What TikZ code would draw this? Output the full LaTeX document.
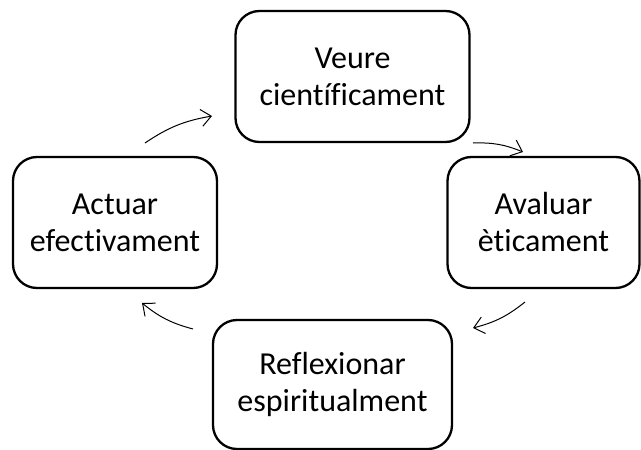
\documentclass[tikz,border=0pt]{standalone}
\usepackage{fontspec}
\setmainfont[Ligatures={NoCommon,NoRare,NoDiscretionary}]{Carlito}
\usetikzlibrary{arrows.meta}
\begin{document}
\begin{tikzpicture}[x=1pt,y=-1pt,
  stagebox/.style={draw=black, line width=2.3pt, rounded corners=24pt, inner sep=0pt,
    align=center, font=\fontsize{32}{37}\selectfont},
  cyclearrow/.style={line width=1pt, -{Straight Barb[length=10pt,width=17pt,line width=1pt]}, bend left=12}]
\useasboundingbox (0,0) rectangle (641,450);
\node[stagebox, minimum width=234pt, minimum height=131pt] (top) at (352.5,76.5) {Veure\\científicament};
\node[stagebox, minimum width=192pt, minimum height=131pt] (right) at (543.5,222.5) {Avaluar\\èticament};
\node[stagebox, minimum width=239pt, minimum height=129pt] (bottom) at (332.5,384.5) {Reflexionar\\espiritualment};
\node[stagebox, minimum width=204pt, minimum height=131pt] (left) at (115,222.5) {Actuar\\efectivament};
\coordinate (a1s) at (145,143);
\coordinate (a1e) at (212,116);
\coordinate (a2s) at (473,143);
\coordinate (a2e) at (523,152);
\coordinate (a3s) at (525,302);
\coordinate (a3e) at (473,328);
\coordinate (a4s) at (193,329);
\coordinate (a4e) at (142,303);
\draw[cyclearrow] (a1s) to (a1e);
\draw[cyclearrow] (a2s) to (a2e);
\draw[cyclearrow] (a3s) to (a3e);
\draw[cyclearrow] (a4s) to (a4e);
\end{tikzpicture}
\end{document}
